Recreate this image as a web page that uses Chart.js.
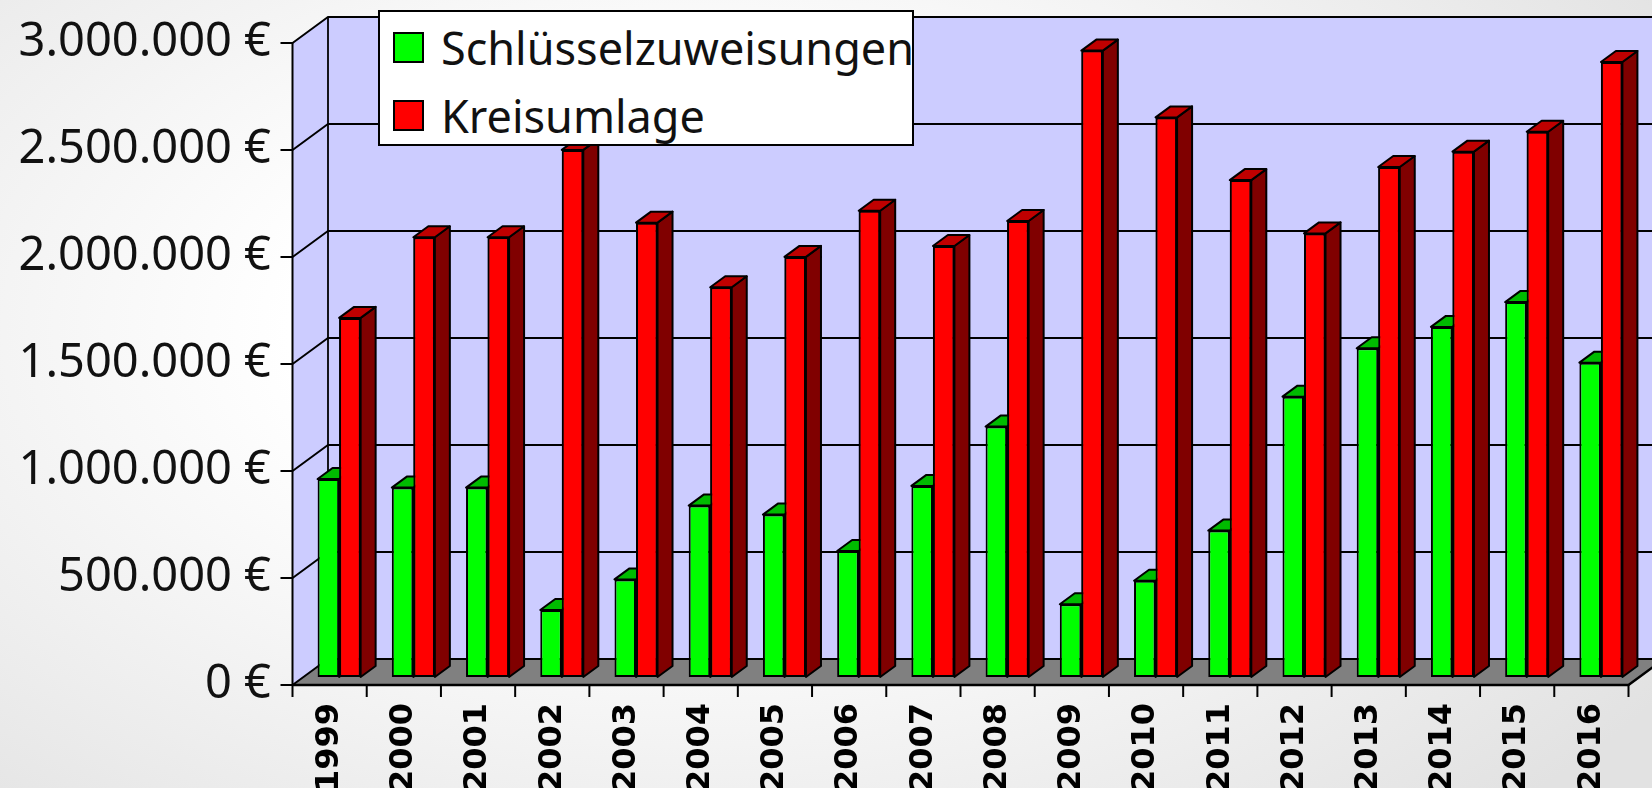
<!DOCTYPE html>
<html lang="de">
<head>
<meta charset="utf-8">
<title>Schlüsselzuweisungen und Kreisumlage 1999–2016</title>
<script src="https://cdn.jsdelivr.net/npm/chart.js@4.4.1/dist/chart.umd.min.js"></script>
<style>
  html, body { margin: 0; padding: 0; }
  body {
    width: 1652px; height: 788px; overflow: hidden;
    background: radial-gradient(ellipse 70% 85% at 42% 42%, #ffffff 35%, #e2e2e2 100%);
    font-family: 'Noto Sans', sans-serif;
  }
  .wrap { position: relative; width: 1652px; height: 788px; }
  #legende {
    position: absolute; left: 378px; top: 10px; width: 536px; height: 136px;
    box-sizing: border-box; background: #fff; border: 2px solid #000;
  }
  #legende .item {
    position: absolute; left: 13px; height: 31px;
    display: flex; align-items: center; font-size: 45px; color: #111; white-space: nowrap;
  }
  #legende .box {
    width: 31px; height: 31px; box-sizing: border-box; border: 2px solid #000;
    margin-right: 17px; flex: none;
  }
</style>
</head>
<body>
<div class="wrap">
  <canvas id="chart"></canvas>
  <div id="legende"></div>
</div>
<script>
// =============== Daten ===============
const years = ['1999', '2000', '2001', '2002', '2003', '2004', '2005', '2006', '2007',
               '2008', '2009', '2010', '2011', '2012', '2013', '2014', '2015', '2016'];
const schluessel = [925000, 885000, 885000, 313000, 456000, 801000, 759000, 589000, 893000,
                    1170000, 340000, 450000, 684000, 1310000, 1536000, 1636000, 1752000, 1469000];
const kreisumlage = [1678000, 2055000, 2055000, 2463000, 2123000, 1821000, 1963000, 2179000, 2014000,
                     2131000, 2927000, 2615000, 2322000, 2073000, 2383000, 2455000, 2548000, 2874000];
const yTicks = [0, 500000, 1000000, 1500000, 2000000, 2500000, 3000000];
const seriesNames = ['Schlüsselzuweisungen', 'Kreisumlage'];

const euro = v => String(v).replace(/\B(?=(\d{3})+(?!\d))/g, '.') + ' €';

// =============== 3D-Geometrie ===============
// Versatz relativ zur Ebene der Säulen-Vorderseiten (= chartArea)
const FRONT = { x: -9.5, y: 8 };   // Vorderkante Boden / Achse
const BACK = { x: 26, y: -18 };    // Rückwand
const BAR = { x: 15, y: -11 };     // Tiefe einer Säule
const faces = [
  { front: '#00ff00', top: '#00bb00', side: '#008000' },
  { front: '#ff0000', top: '#c00000', side: '#800000' }
];

function poly(ctx, pts, fill, lw) {
  ctx.beginPath();
  ctx.moveTo(pts[0][0], pts[0][1]);
  for (let i = 1; i < pts.length; i++) ctx.lineTo(pts[i][0], pts[i][1]);
  ctx.closePath();
  if (fill) { ctx.fillStyle = fill; ctx.fill(); }
  if (lw) { ctx.strokeStyle = '#000'; ctx.lineWidth = lw; ctx.lineJoin = 'round'; ctx.stroke(); }
}
function line(ctx, pts, lw) {
  ctx.beginPath();
  ctx.moveTo(pts[0][0], pts[0][1]);
  for (let i = 1; i < pts.length; i++) ctx.lineTo(pts[i][0], pts[i][1]);
  ctx.strokeStyle = '#000'; ctx.lineWidth = lw || 1.5;
  ctx.stroke();
}

const walls = {
  id: 'walls',
  beforeDatasetsDraw(chart) {
    const { ctx, chartArea: a, scales } = chart;
    const ys = scales.y;
    const y0 = ys.getPixelForValue(0);
    const yt = ys.getPixelForValue(ys.max);
    const fl = a.left + FRONT.x, fr = a.right + FRONT.x;
    const bl = a.left + BACK.x, br = a.right + BACK.x;
    ctx.save();
    poly(ctx, [[fl, y0 + FRONT.y], [fl, yt + FRONT.y], [bl, yt + BACK.y], [bl, y0 + BACK.y]], '#ccccff');
    poly(ctx, [[bl, yt + BACK.y], [br, yt + BACK.y], [br, y0 + BACK.y], [bl, y0 + BACK.y]], '#ccccff');
    poly(ctx, [[fl, y0 + FRONT.y], [fr, y0 + FRONT.y], [br, y0 + BACK.y], [bl, y0 + BACK.y]], '#808080');
    ys.ticks.forEach(t => {
      const p = ys.getPixelForValue(t.value);
      line(ctx, [[fl - 12, p + FRONT.y], [fl, p + FRONT.y], [bl, p + BACK.y], [br, p + BACK.y]], 1.8);
    });
    line(ctx, [[bl, yt + BACK.y], [bl, y0 + BACK.y]], 1.8);
    line(ctx, [[fl, yt + FRONT.y], [fl, y0 + FRONT.y]], 2);
    line(ctx, [[fl, y0 + FRONT.y], [fr, y0 + FRONT.y], [br, y0 + BACK.y]], 2.5);
    const n = chart.data.labels.length, bw = a.width / n;
    for (let i = 0; i <= n; i++) {
      line(ctx, [[fl + i * bw, y0 + FRONT.y], [fl + i * bw, y0 + FRONT.y + 12]], 2);
    }
    ctx.restore();
  },
  // Chart.js malt Datensätze rückwärts; hier in richtiger Reihenfolge Tiefe + Vorderseiten nachziehen
  afterDatasetsDraw(chart) {
    const { ctx } = chart;
    ctx.save();
    chart.data.datasets.forEach((ds, d) => {
      const meta = chart.getDatasetMeta(d);
      const f = faces[d];
      if (d > 0) meta.data.forEach(bar => bar.draw(ctx));
      meta.data.forEach(bar => {
        const { x, y, base, width } = bar.getProps(['x', 'y', 'base', 'width'], true);
        const l = x - width / 2, r = x + width / 2;
        poly(ctx, [[r, y], [r + BAR.x, y + BAR.y], [r + BAR.x, base + BAR.y], [r, base]], f.side, 2);
        poly(ctx, [[l, y], [r, y], [r + BAR.x, y + BAR.y], [l + BAR.x, y + BAR.y]], f.top, 2);
      });
    });
    ctx.restore();
  }
};

// =============== Legende ===============
document.getElementById('legende').innerHTML = seriesNames.map((s, i) => `
  <div class="item" style="top:${20 + i * 68}px">
    <span class="box" style="background:${faces[i].front}"></span>${s}
  </div>`).join('');

// =============== Diagramm ===============
Chart.defaults.color = '#111';

new Chart(document.getElementById('chart'), {
  type: 'bar',
  data: {
    labels: years,
    datasets: [
      { label: seriesNames[0], data: schluessel, backgroundColor: faces[0].front },
      { label: seriesNames[1], data: kreisumlage, backgroundColor: faces[1].front }
    ]
  },
  options: {
    responsive: true, maintainAspectRatio: false, animation: false,
    layout: { padding: { left: 18, right: 14, top: 35, bottom: 0 } },
    datasets: {
      bar: { borderColor: '#000', borderWidth: 2, borderSkipped: false,
             barPercentage: 1, categoryPercentage: 0.58 }
    },
    plugins: { legend: { display: false }, tooltip: { enabled: false } },
    scales: {
      x: {
        grid: { display: false, drawTicks: false },
        border: { display: false },
        afterFit: s => { s.height = 111; s.paddingLeft = 0; s.paddingRight = 0; },
        ticks: {
          autoSkip: false, minRotation: 90, maxRotation: 90, padding: 26, labelOffset: -9.5,
          color: '#000', font: { family: "'DejaVu Sans'", size: 32, weight: 'bold' }
        }
      },
      y: {
        min: 0, max: 3000000,
        grid: { display: false, drawTicks: false },
        border: { display: false },
        afterFit: s => { s.width = 284; s.paddingTop = 0; s.paddingBottom = 0; },
        afterBuildTicks: s => { s.ticks = yTicks.map(v => ({ value: v })); },
        ticks: {
          padding: 31, labelOffset: 8, callback: v => euro(v),
          color: '#111', font: { family: "'Noto Sans'", size: 47 }
        }
      }
    }
  },
  plugins: [walls]
});
</script>
</body>
</html>
